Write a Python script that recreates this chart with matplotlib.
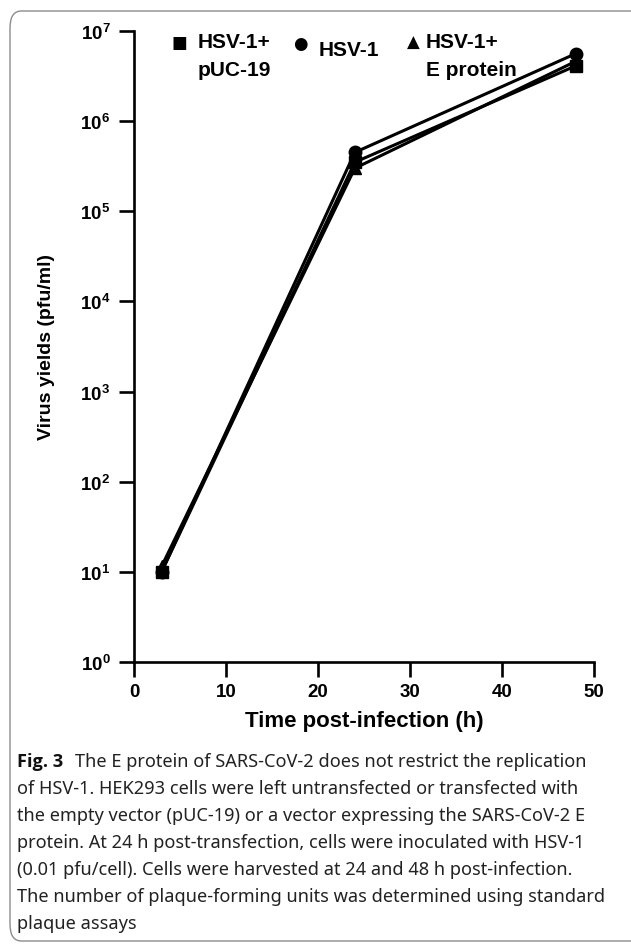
import matplotlib
matplotlib.use("Agg")
from matplotlib import pyplot as plt
from matplotlib.patches import FancyBboxPatch
import numpy as np

# data
hours = [3, 24, 48]
yield_puc19 = [10, 3.5e5, 4.1e6]
yield_hsv1 = [10, 4.5e5, 5.6e6]
yield_eprot = [11.5, 3.0e5, 4.6e6]

x_ticks = [0, 10, 20, 30, 40, 50]
y_exps = [0, 1, 2, 3, 4, 5, 6, 7]

caption_lines = [
    "The E protein of SARS-CoV-2 does not restrict the replication",
    "of HSV-1. HEK293 cells were left untransfected or transfected with",
    "the empty vector (pUC-19) or a vector expressing the SARS-CoV-2 E",
    "protein. At 24 h post-transfection, cells were inoculated with HSV-1",
    "(0.01 pfu/cell). Cells were harvested at 24 and 48 h post-infection.",
    "The number of plaque-forming units was determined using standard",
    "plaque assays",
]

plt.rcParams['font.family'] = ['Liberation Sans', 'DejaVu Sans']
plt.rcParams['mathtext.fontset'] = 'custom'
plt.rcParams['mathtext.rm'] = 'Liberation Sans:bold'
plt.rcParams['mathtext.bf'] = 'Liberation Sans:bold'

W, H = 631, 945
fig = plt.figure(figsize=(W / 100, H / 100), dpi=100)

# rounded frame around the figure panel
frame = FancyBboxPatch((10 / W, 3 / H), 1.1, 1 - 15 / H,
                       boxstyle="round,pad=0,rounding_size=0.018",
                       transform=fig.transFigure, fill=False,
                       edgecolor='#8c8c8c', linewidth=1.0)
fig.patches.append(frame)

left, right, top, bottom = 134, 594, 32, 663
ax = fig.add_axes([left / W, 1 - bottom / H, (right - left) / W, (bottom - top) / H])

lw = 2.2
ax.plot(hours, yield_eprot, color='black', lw=lw, marker='^', ms=9, zorder=3)
ax.plot(hours, yield_hsv1, color='black', lw=lw, marker='o', ms=9, zorder=4)
ax.plot(hours, yield_puc19, color='black', lw=lw, marker='s', ms=8, zorder=5)

ax.set_yscale('log')
ax.set_ylim(1, 1e7)
ax.set_xlim(0, 50)
ax.set_xticks(x_ticks)
ax.set_xticklabels([str(t) for t in x_ticks], fontsize=13.5, fontweight='bold')
ax.set_yticks([10.0 ** e for e in y_exps])
ax.set_yticklabels([r'$\mathbf{10^{%d}}$' % e for e in y_exps], fontsize=13.5)
ax.yaxis.set_minor_locator(matplotlib.ticker.NullLocator())

for side in ['top', 'right']:
    ax.spines[side].set_visible(False)
for side in ['left', 'bottom']:
    ax.spines[side].set_linewidth(1.9)
    ax.spines[side].set_clip_on(False)
ax.tick_params(axis='both', length=11, width=1.9, pad=4)
ax.tick_params(axis='y', pad=6)

ax.set_xlabel('Time post-infection (h)', fontsize=16, fontweight='bold', labelpad=7)
ax.set_ylabel('Virus yields (pfu/ml)', fontsize=14, fontweight='bold', labelpad=18)

# legend drawn by hand in figure pixels
def fx(px):
    return px / W

def fy(py):
    return 1 - py / H

fig.text(fx(179), fy(43), '\u25a0', fontsize=12, ha='center', va='center', family='DejaVu Sans')
fig.text(fx(198), fy(43), 'HSV-1+', fontsize=15, fontweight='bold', ha='left', va='center')
fig.text(fx(198), fy(70), 'pUC-19', fontsize=15, fontweight='bold', ha='left', va='center')
fig.text(fx(300), fy(44), '\u25cf', fontsize=12, ha='center', va='center', family='DejaVu Sans')
fig.text(fx(319), fy(51), 'HSV-1', fontsize=15, fontweight='bold', ha='left', va='center')
fig.text(fx(413), fy(43), '\u25b2', fontsize=12, ha='center', va='center', family='DejaVu Sans')
fig.text(fx(426), fy(43), 'HSV-1+', fontsize=15, fontweight='bold', ha='left', va='center')
fig.text(fx(426), fy(70), 'E protein', fontsize=15, fontweight='bold', ha='left', va='center')

# caption
cap_font = 'Noto Sans'
cap_size = 13.1
y0 = 762
step = 27.0
fig.text(fx(17), fy(y0), 'Fig. 3', fontsize=cap_size, fontweight='bold', family='Open Sans',
         ha='left', va='center', color='#111111')
fig.text(fx(75), fy(y0), caption_lines[0], fontsize=cap_size, family=cap_font,
         ha='left', va='center', color='#222222')
for i, line in enumerate(caption_lines[1:], start=1):
    fig.text(fx(17), fy(y0 + i * step), line, fontsize=cap_size, family=cap_font,
             ha='left', va='center', color='#222222')

fig.savefig('out.png', dpi=100)
